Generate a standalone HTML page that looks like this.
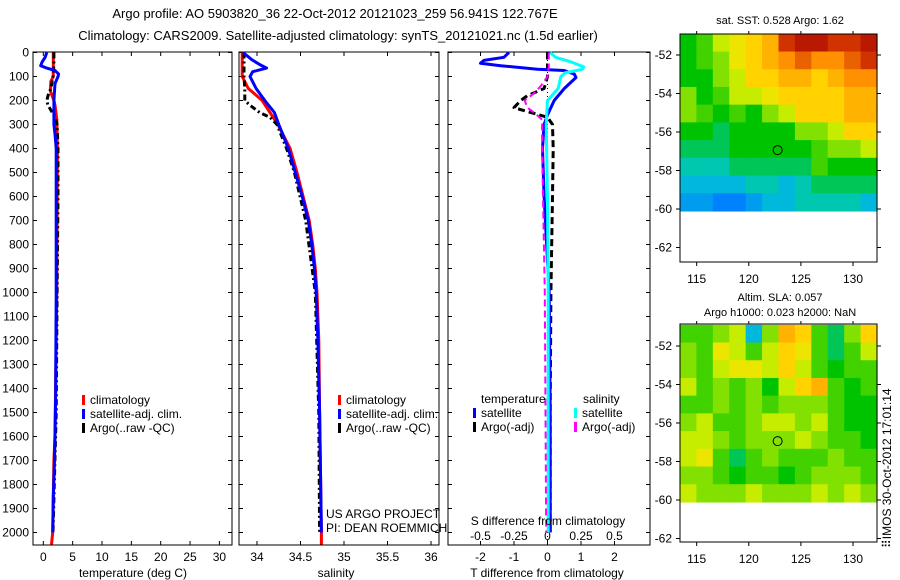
<!DOCTYPE html>
<html><head><meta charset="utf-8">
<style>
html,body{margin:0;padding:0;background:#fff;}
svg{display:block;font-family:"Liberation Sans",sans-serif;}
text{fill:#000;}
</style></head>
<body>
<svg id="fig" width="900" height="580" viewBox="0 0 900 580" xmlns="http://www.w3.org/2000/svg">
<text x="335" y="18" font-size="13" text-anchor="middle">Argo profile: AO 5903820_36 22-Oct-2012 20121023_259 56.941S 122.767E</text>
<text x="338" y="40" font-size="13" text-anchor="middle">Climatology: CARS2009. Satellite-adjusted climatology: synTS_20121021.nc (1.5d earlier)</text>
<g id="p1"></g>
<g id="p2"></g>
<g id="p3"></g>
<g id="m1"></g>
<g id="m2"></g>
<text x="133" y="577" font-size="12" text-anchor="middle">temperature (deg C)</text>
<text x="336" y="577" font-size="12" text-anchor="middle">salinity</text>
<text x="547" y="577" font-size="12" text-anchor="middle">T difference from climatology</text>
<text x="548" y="525" font-size="12" text-anchor="middle">S difference from climatology</text>
<text x="326" y="518" font-size="12">US ARGO PROJECT</text>
<text x="326" y="532" font-size="12">PI: DEAN ROEMMICH</text>
<text x="780" y="24" font-size="11" text-anchor="middle">sat. SST: 0.528 Argo: 1.62</text>
<text x="780" y="301" font-size="11" text-anchor="middle">Altim. SLA: 0.057</text>
<text x="780" y="316" font-size="11" text-anchor="middle">Argo h1000: 0.023 h2000: NaN</text>
<text transform="translate(891,548) rotate(-90)" font-size="12">⠿IMOS 30-Oct-2012 17:01:14</text>
</svg>
<script>
// ---------- data ----------
const depthTicks=[0,100,200,300,400,500,600,700,800,900,1000,1100,1200,1300,1400,1500,1600,1700,1800,1900,2000];
const tempTicks=[0,5,10,15,20,25,30];
const salTicks=[34,34.5,35,35.5,36];
const tdiffTicks=[-2,-1,0,1,2];
const sdiffTicks=[-0.5,-0.25,0,0.25,0.5];
const sdiffTickLabels=["-0.5","-0.25","0","0.25","0.5"];
const latTicks=[-52,-54,-56,-58,-60,-62];
const lonTicks=[115,120,125,130];

const climTDepth=[0,100,120,160,200,220,280,400,1000,1600,1700,2000,2050];
const climT=[1.7,1.7,1.3,1.2,1.8,2.0,2.3,2.4,2.3,2.0,1.8,1.6,1.4];
const satTDepth=[0,20,40,55,65,75,90,100,130,200,300,340,400,1000,1450,1700,1850,2000];
const satT=[0.6,0.3,-0.2,-0.45,0.6,2.0,2.6,2.5,2.0,1.8,1.8,2.0,2.2,2.2,2.1,1.9,1.7,1.6];
const argoTDepth=[0,50,100,150,180,200,220,240,270,300,400,600,1000,1500,2000];
const argoT=[1.8,1.8,1.65,1.3,0.8,0.6,0.8,1.3,2.0,2.35,2.5,2.5,2.35,2.2,1.65];

const climSDepth=[0,100,150,175,200,250,300,400,500,600,700,800,900,1000,1200,1500,2000,2050];
const climS=[33.83,33.83,33.90,33.98,34.06,34.15,34.24,34.38,34.46,34.53,34.60,34.64,34.67,34.69,34.71,34.72,34.74,34.74];
const satSDepth=[0,30,50,65,80,100,150,200,250,300,400,500,600,700,800,900,1000,1200,1500,2000];
const satS=[33.84,33.94,34.03,34.11,33.95,33.92,33.99,34.09,34.20,34.25,34.36,34.44,34.52,34.59,34.63,34.66,34.68,34.70,34.72,34.74];
const argoSDepth=[0,100,150,200,220,250,270,300,400,500,700,1000,1500,2000];
const argoS=[33.85,33.85,33.86,33.86,33.92,34.03,34.15,34.23,34.34,34.43,34.56,34.67,34.71,34.72];

const dTsatDepth=[0,20,33,45,55,70,75,90,104,150,200,260,300,400,600,1000,1500,2000];
const dTsat=[-1.15,-1.3,-1.9,-2.0,-1.4,-0.3,0.5,0.8,0.85,0.5,0.2,0,-0.1,-0.15,-0.1,0.05,0.08,0.08];
const dTargoDepth=[0,50,100,150,180,200,230,250,270,300,400,600,1000,1500,2000];
const dTargo=[0,0,0,-0.1,-0.6,-0.8,-1.0,-0.5,0,0.15,0.17,0.15,0.1,0.08,0.08];
const dSsatDepth=[0,20,40,60,70,85,100,150,200,300,600,1000,2000];
const dSsat=[0.02,0.06,0.18,0.27,0.26,0.13,0.1,0.08,0.0,-0.01,0,0.005,0.005];
const dSargoDepth=[0,60,100,140,170,200,230,250,280,400,1000,2000];
const dSargo=[0.01,0.01,0,-0.05,-0.1,-0.17,-0.15,-0.1,-0.04,-0.04,-0.02,-0.01];

const sstGrid=[
[0.45,0.5,0.6,0.65,0.7,0.75,0.9,0.95,0.95,0.9,0.9,0.95],
[0.45,0.5,0.55,0.65,0.7,0.75,0.8,0.85,0.8,0.8,0.85,0.9],
[0.45,0.45,0.55,0.6,0.7,0.7,0.75,0.75,0.7,0.75,0.8,0.8],
[0.55,0.45,0.5,0.6,0.6,0.65,0.7,0.7,0.7,0.7,0.75,0.75],
[0.55,0.5,0.45,0.5,0.45,0.55,0.6,0.7,0.7,0.7,0.75,0.75],
[0.45,0.45,0.4,0.45,0.45,0.45,0.45,0.55,0.55,0.6,0.7,0.7],
[0.4,0.4,0.4,0.45,0.45,0.45,0.45,0.45,0.5,0.55,0.55,0.6],
[0.35,0.35,0.35,0.4,0.4,0.4,0.4,0.4,0.5,0.45,0.45,0.45],
[0.3,0.3,0.3,0.3,0.35,0.35,0.3,0.35,0.4,0.4,0.4,0.4],
[0.25,0.25,0.2,0.2,0.25,0.3,0.3,0.35,0.35,0.35,0.35,0.3]];
const slaGrid=[
[0.5,0.5,0.55,0.6,0.3,0.55,0.75,0.7,0.5,0.4,0.55,0.7],
[0.55,0.5,0.65,0.6,0.5,0.6,0.7,0.65,0.5,0.4,0.5,0.6],
[0.55,0.5,0.6,0.65,0.65,0.6,0.7,0.6,0.5,0.45,0.5,0.5],
[0.6,0.5,0.55,0.5,0.55,0.45,0.6,0.7,0.75,0.5,0.45,0.5],
[0.5,0.5,0.55,0.5,0.55,0.5,0.55,0.55,0.55,0.5,0.45,0.45],
[0.55,0.6,0.5,0.5,0.55,0.6,0.6,0.55,0.6,0.5,0.45,0.45],
[0.6,0.6,0.55,0.5,0.55,0.55,0.55,0.6,0.55,0.5,0.5,0.45],
[0.6,0.65,0.5,0.4,0.5,0.55,0.5,0.5,0.5,0.55,0.5,0.5],
[0.55,0.55,0.5,0.45,0.5,0.5,0.45,0.5,0.55,0.55,0.55,0.5],
[0.6,0.55,0.55,0.55,0.6,0.55,0.55,0.55,0.6,0.55,0.6,0.55]];
const argoLon=122.767, argoLat=-56.941;

// ---------- helpers ----------
const NS="http://www.w3.org/2000/svg";
function mk(tag,attrs,parent){const e=document.createElementNS(NS,tag);for(const k in attrs)e.setAttribute(k,attrs[k]);parent.appendChild(e);return e;}
const yD=d=>52.5+d*0.24;
const xT=t=>43.3+t*5.87;
const xS=s=>257+(s-34)*87;
const xDT=t=>547.5+t*33.5;
const xDS=s=>547.5+s*134;

function box(g,x0,y0,x1,y1,name){
  const r=mk('rect',{x:x0,y:y0,width:x1-x0,height:y1-y0,fill:'none',stroke:'#000','stroke-width':1},g);
  
  
  depthTicks.forEach(d=>{
    mk('line',{x1:x0,x2:x0+4,y1:yD(d),y2:yD(d),stroke:'#000'},g);
    mk('line',{x1:x1-4,x2:x1,y1:yD(d),y2:yD(d),stroke:'#000'},g);
  });
}
function xticks(g,ticks,fx,y0,y1,labels){
  ticks.forEach((t,i)=>{
    const x=fx(t);
    mk('line',{x1:x,x2:x,y1:y0,y2:y0+4,stroke:'#000'},g);
    mk('line',{x1:x,x2:x,y1:y1-4,y2:y1,stroke:'#000'},g);
    const tx=mk('text',{x:x,y:y1+16,'font-size':12,'text-anchor':'middle'},g);
    tx.textContent=labels?labels[i]:String(t);
    
    
  });
}
function line(g,xs,ds,fx,color,w,dash,name){
  const pts=xs.map((v,i)=>fx(v).toFixed(1)+','+yD(ds[i]).toFixed(1)).join(' ');
  const p=mk('polyline',{points:pts,fill:'none',stroke:color,'stroke-width':w,'stroke-linejoin':'round'},g);
  if(dash)p.setAttribute('stroke-dasharray',dash);
  
  
}
function legend(g,x,y,color,label,dash){
  const m=mk('rect',{x:x,y:y-9,width:3,height:10,fill:color},g);
  
  
  const t=mk('text',{x:x+8,y:y,'font-size':12},g);
  t.textContent=label;
  
  
}

// ---------- panel 1 ----------
const p1=document.getElementById('p1');
box(p1,33,52,232,545,'temperature-axes');
depthTicks.forEach(d=>{
  const t=mk('text',{x:29,y:yD(d)+4,'font-size':12,'text-anchor':'end'},p1);
  t.textContent=d;
  
  
});
xticks(p1,tempTicks,xT,52,545);
line(p1,climT,climTDepth,xT,'#ff0000',3,null,'climatology-temp-line');
line(p1,argoT,argoTDepth,xT,'#000',3,'6,3,2,3','argo-temp-line');
line(p1,satT,satTDepth,xT,'#0000ff',3,null,'satellite-temp-line');
legend(p1,82,404,'#ff0000','climatology');
legend(p1,82,418,'#0000ff','satellite-adj. clim.');
legend(p1,82,432,'#000','Argo(..raw -QC)');

// ---------- panel 2 ----------
const p2=document.getElementById('p2');
box(p2,239,52,439,545,'salinity-axes');
xticks(p2,salTicks,xS,52,545);
line(p2,climS,climSDepth,xS,'#ff0000',3,null,'climatology-sal-line');
line(p2,argoS,argoSDepth,xS,'#000',3,'6,3,2,3','argo-sal-line');
line(p2,satS,satSDepth,xS,'#0000ff',3,null,'satellite-sal-line');
legend(p2,338,404,'#ff0000','climatology');
legend(p2,338,418,'#0000ff','satellite-adj. clim.');
legend(p2,338,432,'#000','Argo(..raw -QC)');

// ---------- panel 3 ----------
const p3=document.getElementById('p3');
box(p3,448,52,650,545,'difference-axes');
xticks(p3,tdiffTicks,xDT,52,545);
sdiffTicks.forEach((s,i)=>{
  const t=mk('text',{x:xDS(s),y:540,'font-size':12,'text-anchor':'middle'},p3);
  t.textContent=sdiffTickLabels[i];
  
  
});
mk('line',{x1:xDT(0),x2:xDT(0),y1:52,y2:545,stroke:'#000','stroke-dasharray':'1,3'},p3);
line(p3,dTargo,dTargoDepth,xDT,'#000',3,'7,4','argo-tdiff-line');
line(p3,dTsat,dTsatDepth,xDT,'#0000ff',3,null,'satellite-tdiff-line');
line(p3,dSsat,dSsatDepth,xDS,'#00ffff',3,null,'satellite-sdiff-line');
line(p3,dSargo,dSargoDepth,xDS,'#ff00ff',2,'7,4','argo-sdiff-line');
const lt=mk('text',{x:481,y:403,'font-size':12},p3);lt.textContent='temperature';


const ls=mk('text',{x:583,y:403,'font-size':12},p3);ls.textContent='salinity';


legend(p3,473,417,'#0000ff','satellite');
legend(p3,473,431,'#000','Argo(-adj)');
legend(p3,574,417,'#00ffff','satellite');
legend(p3,574,431,'#ff00ff','Argo(-adj)');

// ---------- maps ----------
const stops=[[0,[0,40,190]],[0.2,[0,130,255]],[0.33,[0,200,210]],[0.45,[0,195,0]],[0.55,[130,225,0]],[0.62,[225,240,0]],[0.7,[255,210,0]],[0.8,[255,145,0]],[0.9,[210,50,0]],[1,[160,0,0]]];
function cmap(v){
  for(let i=1;i<stops.length;i++){if(v<=stops[i][0]){const a=stops[i-1],b=stops[i],f=(v-a[0])/(b[0]-a[0]);
    const c=a[1].map((x,k)=>Math.round(x+(b[1][k]-x)*f));return 'rgb('+c.join(',')+')';}}
  return 'rgb(160,0,0)';
}
const lonMin=113.4,lonMax=132.3,latTop=-50.9,latBot=-60.1;
const xLon=l=>680+(l-lonMin)*(197/(lonMax-lonMin));
function drawMap(g,grid,yTop,yBotAxis,yLat52,name){
  const yLat=l=>yLat52+(-52-l)*19.25;
  const nr=grid.length,nc=grid[0].length;
  grid.forEach((row,r)=>row.forEach((v,c)=>{
    const l0=lonMin+(lonMax-lonMin)*c/nc,l1=lonMin+(lonMax-lonMin)*(c+1)/nc;
    const a0=latTop+(latBot-latTop)*r/nr,a1=latTop+(latBot-latTop)*(r+1)/nr;
    const x0=xLon(l0),y0=yLat(a0);
    const cell=mk('rect',{x:x0.toFixed(2),y:y0.toFixed(2),width:(xLon(l1)-x0+0.6).toFixed(2),height:(yLat(a1)-y0+0.6).toFixed(2),fill:cmap(v)},g);
    
    
  }));
  const b=mk('rect',{x:680,y:yTop,width:197,height:yBotAxis-yTop,fill:'none',stroke:'#000'},g);
  
  
  latTicks.forEach(l=>{
    const y=yLat(l);
    mk('line',{x1:680,x2:676,y1:y,y2:y,stroke:'#000'},g);
    mk('line',{x1:877,x2:881,y1:y,y2:y,stroke:'#000'},g);
    const t=mk('text',{x:672,y:y+4,'font-size':12,'text-anchor':'end'},g);
    t.textContent=String(l);
    
    
  });
  lonTicks.forEach(l=>{
    const x=xLon(l);
    mk('line',{x1:x,x2:x,y1:yBotAxis,y2:yBotAxis+4,stroke:'#000'},g);
    mk('line',{x1:x,x2:x,y1:yTop,y2:yTop-3,stroke:'#000'},g);
    const t=mk('text',{x:x,y:yBotAxis+21,'font-size':12,'text-anchor':'middle'},g);
    t.textContent=l;
    
    
  });
  const c=mk('circle',{cx:xLon(argoLon),cy:yLat(argoLat),r:4.5,fill:'none',stroke:'#000','stroke-width':1},g);
  
  
}
drawMap(document.getElementById('m1'),sstGrid,34,262,55,'sst-map');
drawMap(document.getElementById('m2'),slaGrid,324,542,346,'sla-map');
</script>
</body></html>
